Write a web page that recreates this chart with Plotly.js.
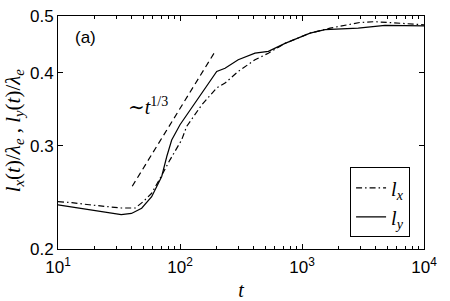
<!DOCTYPE html>
<html>
<head>
<meta charset="utf-8">
<script src="https://cdn.plot.ly/plotly-3.0.1.min.js"></script>
<style>html,body{margin:0;padding:0;background:#fff;}#chart{width:450px;height:301px;}</style>
</head>
<body>
<div id="chart"></div>
<script>
// time values and lengths
var tX = [10, 13, 18, 25, 33, 40, 43, 50, 58.6, 68.6, 82.8, 103, 113.5, 150, 200, 234, 300, 412, 530, 726, 1164, 1700, 2985, 3963, 4645, 6170, 7210, 10000];
var lX = [0.241, 0.240, 0.238, 0.236, 0.235, 0.235, 0.235, 0.241, 0.249, 0.264, 0.284, 0.307, 0.324, 0.352, 0.377, 0.384, 0.402, 0.421, 0.432, 0.449, 0.4675, 0.4767, 0.4874, 0.489, 0.488, 0.486, 0.485, 0.483];

var tY = [10, 13, 18, 25, 33, 40, 48.5, 58.6, 70.8, 78, 85.5, 100, 200, 234, 300, 412, 530, 726, 1164, 1545, 2473, 2890, 4790, 7000, 10000];
var lY = [0.238, 0.236, 0.233, 0.231, 0.229, 0.230, 0.2348, 0.2457, 0.266, 0.288, 0.307, 0.326, 0.402, 0.407, 0.421, 0.432, 0.435, 0.449, 0.4675, 0.474, 0.4755, 0.4766, 0.482, 0.481, 0.481];

// guide line ~ t^(1/3): endpoints
var tGuide = [40.6, 194];
var lGuide = [0.256, 0.435];

var xTickVals = [10, 100, 1000, 10000];
var xTickText = ['10<sup>1</sup>', '10<sup>2</sup>', '10<sup>3</sup>', '10<sup>4</sup>'];
var yTickVals = [0.2, 0.3, 0.4, 0.5];
var yTickText = ['0.2', '0.3', '0.4', '0.5'];

var serif = 'Liberation Serif, DejaVu Serif, serif';
var sans = 'Liberation Sans, Arial, sans-serif';

var traces = [
  {x: tX, y: lX, mode: 'lines', name: '<i>l</i><sub><i>x</i></sub>',
   line: {color: '#000', width: 1.2, dash: '6px,3px,1.5px,3px'}},
  {x: tY, y: lY, mode: 'lines', name: '<i>l</i><sub><i>y</i></sub>',
   line: {color: '#000', width: 1.2}},
  {x: tGuide, y: lGuide, mode: 'lines', showlegend: false, hoverinfo: 'skip',
   line: {color: '#000', width: 1.2, dash: '6px,4px'}}
];

var layout = {
  width: 450, height: 301,
  margin: {l: 58, r: 26, t: 16, b: 52, pad: 0},
  paper_bgcolor: '#fff', plot_bgcolor: '#fff',
  font: {family: sans, size: 17, color: '#000'},
  showlegend: true,
  legend: {x: 0.798, y: 0.35, xanchor: 'left', yanchor: 'top',
           bgcolor: '#fff', bordercolor: '#000', borderwidth: 1,
           font: {family: serif, size: 20, color: '#000'}},
  xaxis: {type: 'log', range: [1, 4], showgrid: false, zeroline: false,
          showline: true, linecolor: '#000', linewidth: 1, mirror: 'ticks',
          ticks: 'inside', ticklen: 5, tickcolor: '#000',
          tickmode: 'array', tickvals: xTickVals, ticktext: xTickText,
          tickfont: {family: sans, size: 17}, ticklabelstandoff: 3,
          minor: {ticks: 'inside', ticklen: 3, dtick: 'D1', tickcolor: '#000', showgrid: false},
          title: {text: '<i>t</i>', font: {family: serif, size: 20}, standoff: 6}},
  yaxis: {type: 'log', range: [Math.log10(0.2), Math.log10(0.5)], showgrid: false, zeroline: false,
          showline: true, linecolor: '#000', linewidth: 1, mirror: 'ticks',
          ticks: 'inside', ticklen: 5, tickcolor: '#000',
          tickmode: 'array', tickvals: yTickVals, ticktext: yTickText,
          tickfont: {family: sans, size: 17}},
  annotations: [
    {xref: 'paper', yref: 'paper', x: -0.12, y: 0.51, textangle: -90,
     text: '<i>l</i><sub><i>x</i></sub>(<i>t</i>)/<i>λ</i><sub><i>e</i></sub> , <i>l</i><sub><i>y</i></sub>(<i>t</i>)/<i>λ</i><sub><i>e</i></sub>',
     showarrow: false, font: {family: serif, size: 21}, xanchor: 'center', yanchor: 'middle'},
    {xref: 'paper', yref: 'paper', x: 0.0738, y: 0.908, text: '(a)', showarrow: false,
     font: {family: sans, size: 17}, xanchor: 'center', yanchor: 'middle'},
    {xref: 'paper', yref: 'paper', x: 0.246, y: 0.614, text: '∼<i>t</i><sup>1/3</sup>', showarrow: false,
     font: {family: serif, size: 20}, xanchor: 'center', yanchor: 'middle'}
  ]
};

Plotly.newPlot('chart', traces, layout, {displayModeBar: false, staticPlot: true});
</script>
</body>
</html>
